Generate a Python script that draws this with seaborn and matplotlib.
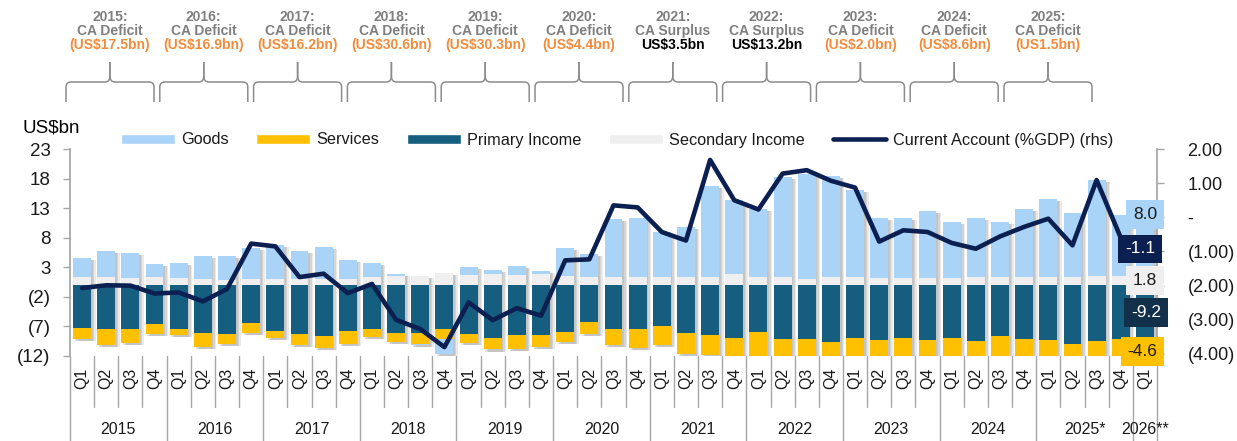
import numpy as np
import pandas as pd
import matplotlib
matplotlib.use('Agg')
import matplotlib.pyplot as plt
import seaborn as sns
from matplotlib.path import Path
from matplotlib.patches import PathPatch, Patch
from matplotlib.lines import Line2D

# quarterly data, 2015Q1 .. 2026Q1 (US$bn)
quarters = [f'Q{q}' for y in range(2015, 2026) for q in range(1, 5)] + ['Q1']
year_labels = ['2015', '2016', '2017', '2018', '2019', '2020', '2021', '2022',
               '2023', '2024', '2025*', '2026**']

goods = [3.3, 4.4, 4.3, 2.25, 2.6, 3.9, 4.0, 5.3, 5.7, 4.7, 5.4, 3.1,
         2.4, 0.4, -0.2, -2.5, 1.35, 0.7, 1.5, 0.4, 4.6, 4.0, 9.8, 10.0,
         7.7, 8.45, 15.5, 12.5, 11.5, 16.9, 17.7, 17.2, 14.8, 10.1, 10.2, 11.4,
         9.4, 10.1, 9.4, 11.5, 13.1, 10.7, 16.2, 10.3, 8.0]
services = [-1.9, -2.8, -2.3, -1.7, -1.1, -2.4, -1.7, -1.7, -1.1, -2.0, -2.0, -2.1,
            -1.4, -1.6, -1.8, -1.7, -1.6, -1.9, -2.3, -2.0, -1.8, -2.1, -2.8, -3.2,
            -3.3, -3.55, -3.5, -3.6, -4.2, -3.8, -3.9, -3.6, -3.9, -3.8, -4.0, -3.9,
            -4.1, -3.9, -4.2, -4.0, -4.1, -3.8, -4.2, -4.3, -4.6]
primary = [-7.2, -7.4, -7.5, -6.6, -7.4, -8.1, -8.2, -6.4, -7.8, -8.2, -8.6, -7.8,
           -7.4, -8.1, -8.1, -7.5, -8.2, -9.0, -8.5, -8.4, -7.9, -6.2, -7.4, -7.5,
           -6.85, -8.1, -8.4, -9.0, -7.9, -9.1, -9.05, -9.7, -8.9, -9.3, -8.9, -9.3,
           -8.9, -9.4, -8.7, -9.1, -9.3, -9.9, -9.5, -9.2, -9.2]
secondary = [1.3, 1.35, 1.2, 1.3, 1.2, 1.0, 0.85, 1.0, 1.0, 1.0, 1.0, 1.1,
             1.3, 1.5, 1.6, 2.0, 1.7, 1.8, 1.7, 1.9, 1.6, 1.3, 1.3, 1.3,
             1.3, 1.3, 1.3, 1.9, 1.3, 1.3, 1.1, 1.3, 1.3, 1.2, 1.2, 1.2,
             1.2, 1.3, 1.3, 1.3, 1.4, 1.4, 1.6, 1.6, 1.8]
ca_gdp = [-2.07, -1.99, -2.0, -2.23, -2.2, -2.46, -2.1, -0.77, -0.85, -1.75, -1.65, -2.22,
          -1.95, -3.0, -3.27, -3.8, -2.49, -3.01, -2.66, -2.88, -1.26, -1.23, 0.35, 0.29,
          -0.43, -0.68, 1.68, 0.5, 0.23, 1.28, 1.38, 1.07, 0.87, -0.71, -0.38, -0.43,
          -0.75, -0.92, -0.56, -0.28, -0.04, -0.82, 1.09, -0.6, -1.1]

# annual headline boxes
ann_years = ['2015', '2016', '2017', '2018', '2019', '2020', '2021', '2022', '2023', '2024', '2025']
ann_status = ['CA Deficit'] * 6 + ['CA Surplus'] * 2 + ['CA Deficit'] * 3
ann_value = ['(US$17.5bn)', '(US$16.9bn)', '(US$16.2bn)', '(US$30.6bn)', '(US$30.3bn)',
             '(US$4.4bn)', 'US$3.5bn', 'US$13.2bn', '(US$2.0bn)', '(US$8.6bn)', '(US1.5bn)']

c_goods = '#A9D3F7'
c_serv = '#FFC000'
c_prim = '#165E80'
c_sec = '#EFEFEF'
c_line = '#0B1F51'
c_grid = '#A6A6A6'
c_txt = '#1a1a1a'

sns.set_theme(style='white')
plt.rcParams['font.family'] = ['Liberation Sans', 'DejaVu Sans']

W, H = 1237, 441
fx = lambda p: p / W
fy = lambda p: 1 - p / H
ya = lambda p: (356 - p) / 207  # pixel row -> axes fraction

fig = plt.figure(figsize=(W / 100, H / 100), dpi=100)
ax = fig.add_axes([fx(70), fy(356), fx(1157) - fx(70), fy(149) - fy(356)])

df = pd.DataFrame({'quarter': quarters, 'Goods': goods, 'Services': services,
                   'Primary Income': primary, 'Secondary Income': secondary,
                   'CA': ca_gdp})
x = np.arange(len(df))
bw = 0.74

# stacking: positives build up, negatives build down
layers = [('Secondary Income', c_sec), ('Primary Income', c_prim),
          ('Services', c_serv), ('Goods', c_goods)]
pos = np.zeros(len(df))
neg = np.zeros(len(df))
segs = []
for name, col in layers:
    v = df[name].to_numpy()
    base = np.where(v >= 0, pos, neg)
    segs.append((v, base, col))
    pos = pos + np.where(v >= 0, v, 0)
    neg = neg + np.where(v < 0, v, 0)

# soft drop shadow behind each column
for off, a in [(0.07, 0.22), (0.13, 0.22), (0.19, 0.18)]:
    ax.bar(x + off, pos - neg, bw, bottom=neg - 0.35, color='#8a8a8a', alpha=a,
           linewidth=0, zorder=1)
for v, base, col in segs:
    ax.bar(x, v, bw, bottom=base, color=col, linewidth=0, zorder=2)

ax.set_xlim(-0.5, len(df) - 0.5)
ax.set_ylim(-12, 23)
yt = [-12, -7, -2, 3, 8, 13, 18, 23]
ax.set_yticks(yt)
ax.set_yticklabels([f'({-t})' if t < 0 else f'{t}' for t in yt])
ax.set_xticks([])
ax.tick_params(axis='y', left=True, direction='out', length=5, width=1, color=c_grid,
               labelsize=13.5, labelcolor=c_txt, pad=9)
for s in ['top', 'right', 'bottom']:
    ax.spines[s].set_visible(False)
ax.spines['left'].set_color(c_grid)

ax2 = ax.twinx()
sns.lineplot(x=x, y=df['CA'], ax=ax2, color=c_line, linewidth=3.3, legend=False, zorder=5)
ax2.set_ylim(-4.06, 2.0)
ax2.set_xlim(-0.5, len(df) - 0.5)
rt = [2, 1, 0, -1, -2, -3, -4]
ax2.set_yticks(rt)
ax2.set_yticklabels(['-' if t == 0 else (f'({-t:.2f})' if t < 0 else f'{t:.2f}') for t in rt])
ax2.tick_params(axis='y', right=True, direction='out', length=5, width=1, color=c_grid,
                labelsize=13, labelcolor=c_txt, pad=17)
ax2.set_ylabel('')
ax2.set_xlabel('')
for s in ['top', 'left', 'bottom']:
    ax2.spines[s].set_visible(False)
ax2.spines['right'].set_color(c_grid)

# category axis: quarter separators, quarter and year labels
xt = ax.get_xaxis_transform()
for b in range(len(df) + 1):
    long_ = (b % 4 == 0) or b == len(df)
    ax.plot([b - 0.5, b - 0.5], [0, ya(441) if long_ else ya(407)], color=c_grid,
            lw=1, transform=xt, clip_on=False)
for i, q in enumerate(quarters):
    ax.text(i, ya(378), q, rotation=90, ha='center', va='center', fontsize=11.5,
            color=c_txt, transform=xt)
for k, lab in enumerate(year_labels):
    cx = 4 * k + 1.5 if k < 11 else 44
    ax.text(cx, ya(430), lab, ha='center', va='center', fontsize=11.5,
            color=c_txt, transform=xt)

# value labels for the latest quarter
last = len(df) - 1
lab_specs = [(f'{goods[last]:.1f}', 44.0, 11.85, c_goods, c_txt),
             (f'{ca_gdp[last]:.1f}', 43.8, 6.1, c_line, 'white'),
             (f'{secondary[last]:.1f}', 44.0, 0.76, c_sec, c_txt),
             (f'{primary[last]:.1f}', 44.05, -4.65, '#12304A', 'white'),
             (f'{services[last]:.1f}', 43.9, -11.3, c_serv, c_txt)]
for txt, lx, ly, bg, fg in lab_specs:
    ax2.text(lx, ly, txt, transform=ax.transData, ha='center', va='center',
             fontsize=12.5, color=fg, zorder=10, clip_on=False,
             bbox=dict(boxstyle='square,pad=0.4', fc=bg, ec='none'))

fig.text(fx(23), fy(128), 'US$bn', fontsize=13.5, ha='left', va='center', color='black')

handles = [Patch(fc=c_goods, label='Goods'), Patch(fc=c_serv, label='Services'),
           Patch(fc=c_prim, label='Primary Income'), Patch(fc=c_sec, label='Secondary Income'),
           Line2D([0], [0], color=c_line, lw=3.3, label='Current Account (%GDP) (rhs)')]
fig.legend(handles=handles, loc='center', bbox_to_anchor=(fx(617), fy(140)), ncol=5,
           frameon=False, fontsize=11.7, handlelength=3.3, handleheight=0.6,
           columnspacing=1.7, handletextpad=0.4, labelcolor=c_txt)

# annual headline text with curly braces
for i, (yr, st, val) in enumerate(zip(ann_years, ann_status, ann_value)):
    cx = 110 + 93.8 * i
    fig.text(fx(cx), fy(17), f'{yr}:', ha='center', va='center', fontsize=10,
             fontweight='bold', color='#7F7F7F')
    fig.text(fx(cx), fy(31), st, ha='center', va='center', fontsize=10,
             fontweight='bold', color='#7F7F7F')
    fig.text(fx(cx), fy(45), val, ha='center', va='center', fontsize=10,
             fontweight='bold', color='#F28C3C' if val.startswith('(') else 'black')
    for sgn in (-1, 1):
        xe = cx + sgn * 44
        pts = [(xe, 102), (xe, 87), (xe, 82), (xe - sgn * 5, 82), (cx + sgn * 5, 82),
               (cx, 82), (cx, 76), (cx, 62)]
        codes = [Path.MOVETO, Path.LINETO, Path.CURVE3, Path.CURVE3, Path.LINETO,
                 Path.CURVE3, Path.CURVE3, Path.LINETO]
        p = Path([(fx(a), fy(b)) for a, b in pts], codes)
        fig.add_artist(PathPatch(p, transform=fig.transFigure, fill=False,
                                 ec='#8C8C8C', lw=1.1))

fig.savefig('out.png', dpi=100)
